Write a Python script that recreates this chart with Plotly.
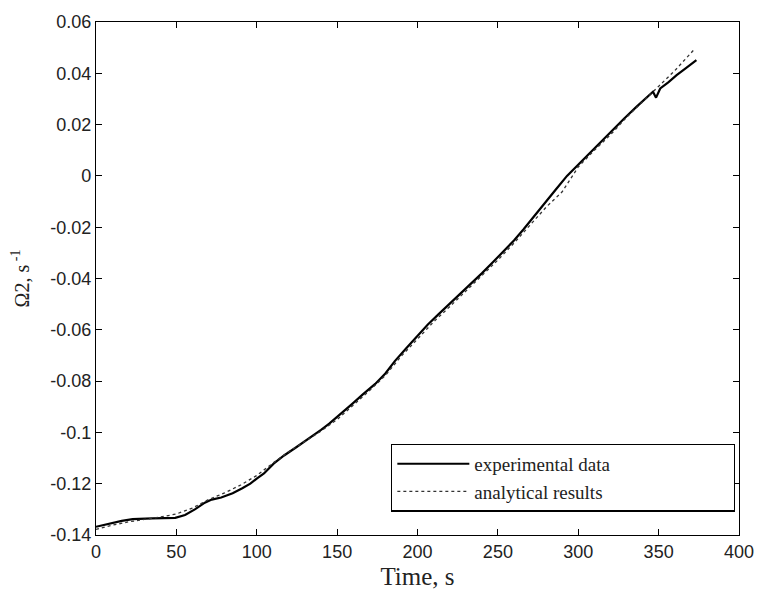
import plotly.graph_objects as go

# Experimental data (time s, Omega2 1/s)
t_exp = [0, 5, 10.6, 16, 22.8, 28, 35, 42, 49.3, 55.4, 61.5, 67.7, 72, 77.9, 85, 91, 96,
         100, 104.5, 110.5, 117, 124.8, 133, 140, 145.1, 152, 159.4, 166, 173.7, 180,
         185.9, 193, 200, 206.3, 213, 220, 226.7, 233, 240, 247, 254, 260, 266, 273.6,
         280, 285.8, 293, 300.1, 307, 314.4, 321, 328.6, 336, 342.9, 346.5, 348.4, 351,
         356, 361.2, 367, 373.5]
w_exp = [-0.1368, -0.1360, -0.1352, -0.1345, -0.1338, -0.1336, -0.1335, -0.1334, -0.1333,
         -0.1322, -0.1300, -0.1274, -0.1262, -0.1254, -0.1237, -0.1218, -0.1200, -0.1180,
         -0.1160, -0.1122, -0.1090, -0.1057, -0.1022, -0.0990, -0.0966, -0.0930, -0.0889,
         -0.0852, -0.0811, -0.0770, -0.0722, -0.0672, -0.0625, -0.0580, -0.0540, -0.0499,
         -0.0460, -0.0422, -0.0380, -0.0336, -0.0291, -0.0252, -0.0208, -0.0148, -0.0100,
         -0.0055, 0.0000, 0.0045, 0.0090, 0.0134, 0.0178, 0.0224, 0.0268, 0.0309, 0.0328,
         0.0305, 0.0341, 0.0365, 0.0393, 0.0420, 0.0451]

# Analytical results
t_ana = [0, 10, 20, 30, 40, 50, 60, 70, 80, 90, 100, 110, 120, 130, 140, 150, 160, 170,
         180, 190, 200, 210, 220, 230, 240, 250, 260, 270, 280, 290, 300, 310, 320, 330,
         340, 350, 360, 372]
w_ana = [-0.1378, -0.1362, -0.1349, -0.1340, -0.1330, -0.1318, -0.1295, -0.1262, -0.1236,
         -0.1205, -0.1168, -0.1120, -0.1075, -0.1035, -0.0995, -0.0950, -0.0895, -0.0838,
         -0.0778, -0.0702, -0.0636, -0.0569, -0.0510, -0.0449, -0.0390, -0.0328, -0.0262,
         -0.0192, -0.0122, -0.0062, 0.0035, 0.0100, 0.0160, 0.0228, 0.0290, 0.0350,
         0.0410, 0.0492]

x_ticks = [0, 50, 100, 150, 200, 250, 300, 350, 400]
y_ticks = [0.06, 0.04, 0.02, 0, -0.02, -0.04, -0.06, -0.08, -0.1, -0.12, -0.14]
y_tick_text = ["0.06", "0.04", "0.02", "0", "-0.02", "-0.04", "-0.06", "-0.08", "-0.1", "-0.12", "-0.14"]

pad = "\u00a0" * 25
fig = go.Figure()
fig.add_trace(go.Scatter(x=t_exp, y=w_exp, mode="lines", name="experimental data" + pad,
                         line=dict(color="black", width=2.2)))
fig.add_trace(go.Scatter(x=t_ana, y=w_ana, mode="lines", name="analytical results" + pad,
                         line=dict(color="#333333", width=1.3, dash="dot")))

axis_common = dict(showline=True, linecolor="black", linewidth=1.2, mirror="ticks",
                   ticks="inside", ticklen=6, tickcolor="black", showgrid=False,
                   zeroline=False, tickfont=dict(family="Liberation Sans", size=18, color="#222"))

fig.update_layout(
    width=766, height=597,
    margin=dict(l=96, r=16, t=20, b=62),
    paper_bgcolor="white", plot_bgcolor="white",
    xaxis=dict(range=[0, 400], tickvals=x_ticks,
               title=dict(text="Time, s", font=dict(family="Liberation Serif", size=25, color="#222"),
                          standoff=6),
               **axis_common),
    yaxis=dict(range=[-0.14, 0.06], tickvals=y_ticks, ticktext=y_tick_text,
               title=dict(text="Ω2, s<sup> -1</sup>", font=dict(family="Liberation Serif", size=20, color="#222"),
                          standoff=15),
               **axis_common),
    legend=dict(x=0.459, y=0.178, xanchor="left", yanchor="top",
                bordercolor="black", borderwidth=1.2, bgcolor="white",
                font=dict(family="Liberation Serif", size=19, color="#222"),
                itemwidth=72, tracegroupgap=0),
    showlegend=True,
)

fig.write_html("out.html")
